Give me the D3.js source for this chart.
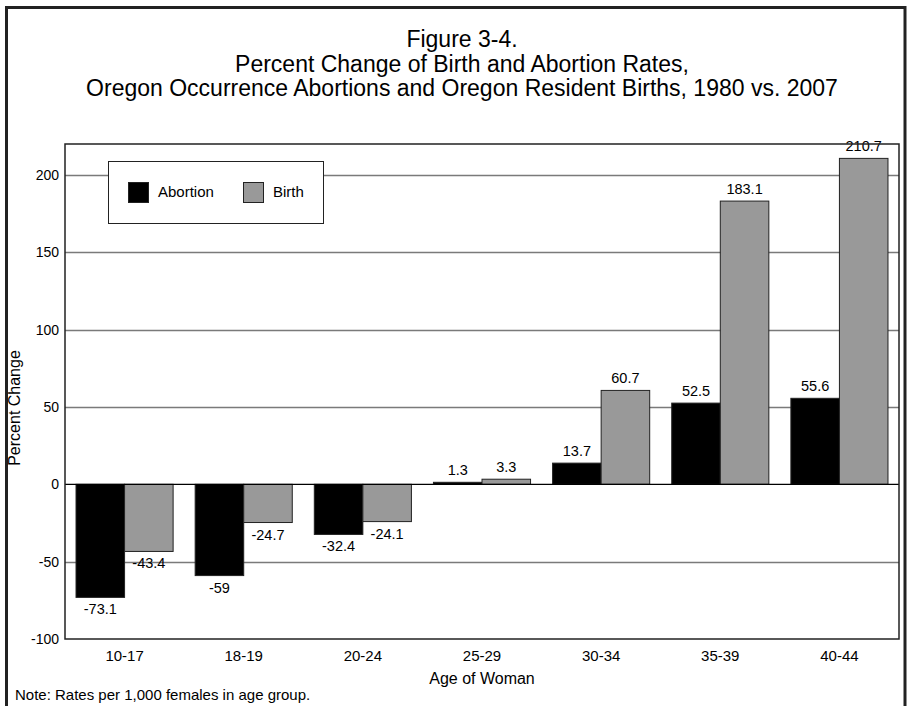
<!DOCTYPE html>
<html>
<head>
<meta charset="utf-8">
<script src="https://cdn.jsdelivr.net/npm/d3@7"></script>
<style>
  body { margin: 0; background: #fff; }
  text { font-family: "Liberation Sans", Arial, sans-serif; fill: #000; }
</style>
</head>
<body>
<svg id="chart"></svg>
<script>
const ageGroups = ['10-17', '18-19', '20-24', '25-29', '30-34', '35-39', '40-44'];
const abortion = [-73.1, -59, -32.4, 1.3, 13.7, 52.5, 55.6];
const birth = [-43.4, -24.7, -24.1, 3.3, 60.7, 183.1, 210.7];
const yTicks = [-100, -50, 0, 50, 100, 150, 200];
const seriesNames = ['Abortion', 'Birth'];
const seriesColors = ['#000000', '#999999'];

const size = {w: 907, h: 706};
const plot = {l: 65, t: 144, r: 899, b: 639};

const svg = d3.select('svg#chart')
    .attr('width', size.w)
    .attr('height', size.h);

// outer frame
svg.append('rect')
    .attr('x', 6.5).attr('y', 7.5)
    .attr('width', 898.5).attr('height', 720)
    .attr('fill', 'none')
    .attr('stroke', '#222')
    .attr('stroke-width', 3);

// title
const titleLines = ['Figure 3-4.',
    'Percent Change of Birth and Abortion Rates,',
    'Oregon Occurrence Abortions and Oregon Resident Births, 1980 vs. 2007'];
svg.selectAll('text.title')
    .data(titleLines)
    .join('text')
    .classed('title', true)
    .attr('x', 462)
    .attr('y', (d, i) => 47 + i * 24.5)
    .attr('text-anchor', 'middle')
    .style('font-size', '23px')
    .text(d => d);

const x = d3.scaleBand()
    .domain(ageGroups)
    .range([plot.l, plot.r])
    .paddingInner(0.185)
    .paddingOuter(0.0925);

const x1 = d3.scaleBand()
    .domain(seriesNames)
    .range([0, x.bandwidth()]);

const y = d3.scaleLinear()
    .domain([-100, 220])
    .range([plot.b, plot.t]);

// gridlines
svg.append('g')
    .selectAll('line')
    .data(yTicks.filter(d => d !== 0 && d !== -100))
    .join('line')
    .attr('x1', plot.l).attr('x2', plot.r)
    .attr('y1', d => Math.round(y(d)) + 0.5)
    .attr('y2', d => Math.round(y(d)) + 0.5)
    .attr('stroke', '#7a7a7a')
    .attr('stroke-width', 1.3);

// y tick labels
svg.append('g')
    .selectAll('text')
    .data(yTicks)
    .join('text')
    .attr('x', 59)
    .attr('y', d => y(d) + 5)
    .attr('text-anchor', 'end')
    .style('font-size', '14px')
    .text(d => d);

// bars
const data = ageGroups.map((g, i) => ({group: g, values: [abortion[i], birth[i]]}));

const groups = svg.append('g')
    .selectAll('g')
    .data(data)
    .join('g')
    .attr('transform', d => `translate(${x(d.group)},0)`);

groups.selectAll('rect')
    .data(d => d.values.map((v, j) => ({name: seriesNames[j], value: v, color: seriesColors[j]})))
    .join('rect')
    .attr('x', d => x1(d.name))
    .attr('y', d => y(Math.max(0, d.value)))
    .attr('width', x1.bandwidth())
    .attr('height', d => Math.abs(y(d.value) - y(0)))
    .attr('fill', d => d.color)
    .attr('stroke', '#222')
    .attr('stroke-width', 1);

groups.selectAll('text')
    .data(d => d.values.map((v, j) => ({name: seriesNames[j], value: v})))
    .join('text')
    .attr('x', d => x1(d.name) + x1.bandwidth() / 2)
    .attr('y', d => d.value >= 0 ? y(d.value) - 7 : y(d.value) + 17)
    .attr('text-anchor', 'middle')
    .style('font-size', '14.5px')
    .text(d => d.value);

// zero line
svg.append('line')
    .attr('x1', plot.l).attr('x2', plot.r)
    .attr('y1', y(0)).attr('y2', y(0))
    .attr('stroke', '#000')
    .attr('stroke-width', 1.2);

// plot border
svg.append('rect')
    .attr('x', plot.l).attr('y', plot.t)
    .attr('width', plot.r - plot.l)
    .attr('height', plot.b - plot.t)
    .attr('fill', 'none')
    .attr('stroke', '#222')
    .attr('stroke-width', 1.5);

// x labels
svg.append('g')
    .selectAll('text')
    .data(ageGroups)
    .join('text')
    .attr('x', d => x(d) + x.bandwidth() / 2)
    .attr('y', 661)
    .attr('text-anchor', 'middle')
    .style('font-size', '15px')
    .text(d => d);

// axis titles
svg.append('text')
    .attr('transform', 'translate(20,408) rotate(-90)')
    .attr('text-anchor', 'middle')
    .style('font-size', '16px')
    .text('Percent Change');

svg.append('text')
    .attr('x', 482).attr('y', 684)
    .attr('text-anchor', 'middle')
    .style('font-size', '16px')
    .text('Age of Woman');

svg.append('text')
    .attr('x', 15).attr('y', 700)
    .style('font-size', '15px')
    .text('Note:  Rates per 1,000 females in age group.');

// legend
const legend = svg.append('g');
legend.append('rect')
    .attr('x', 108.5).attr('y', 161.5)
    .attr('width', 215).attr('height', 62)
    .attr('fill', '#fff')
    .attr('stroke', '#222')
    .attr('stroke-width', 1);

const legendX = [128, 243];
legend.selectAll('rect.key')
    .data(seriesNames)
    .join('rect')
    .classed('key', true)
    .attr('x', (d, i) => legendX[i] + 0.5)
    .attr('y', 182.5)
    .attr('width', 20).attr('height', 20)
    .attr('fill', (d, i) => seriesColors[i])
    .attr('stroke', '#222');

legend.selectAll('text')
    .data(seriesNames)
    .join('text')
    .attr('x', (d, i) => legendX[i] + 30)
    .attr('y', 197)
    .style('font-size', '15px')
    .text(d => d);
</script>
</body>
</html>
